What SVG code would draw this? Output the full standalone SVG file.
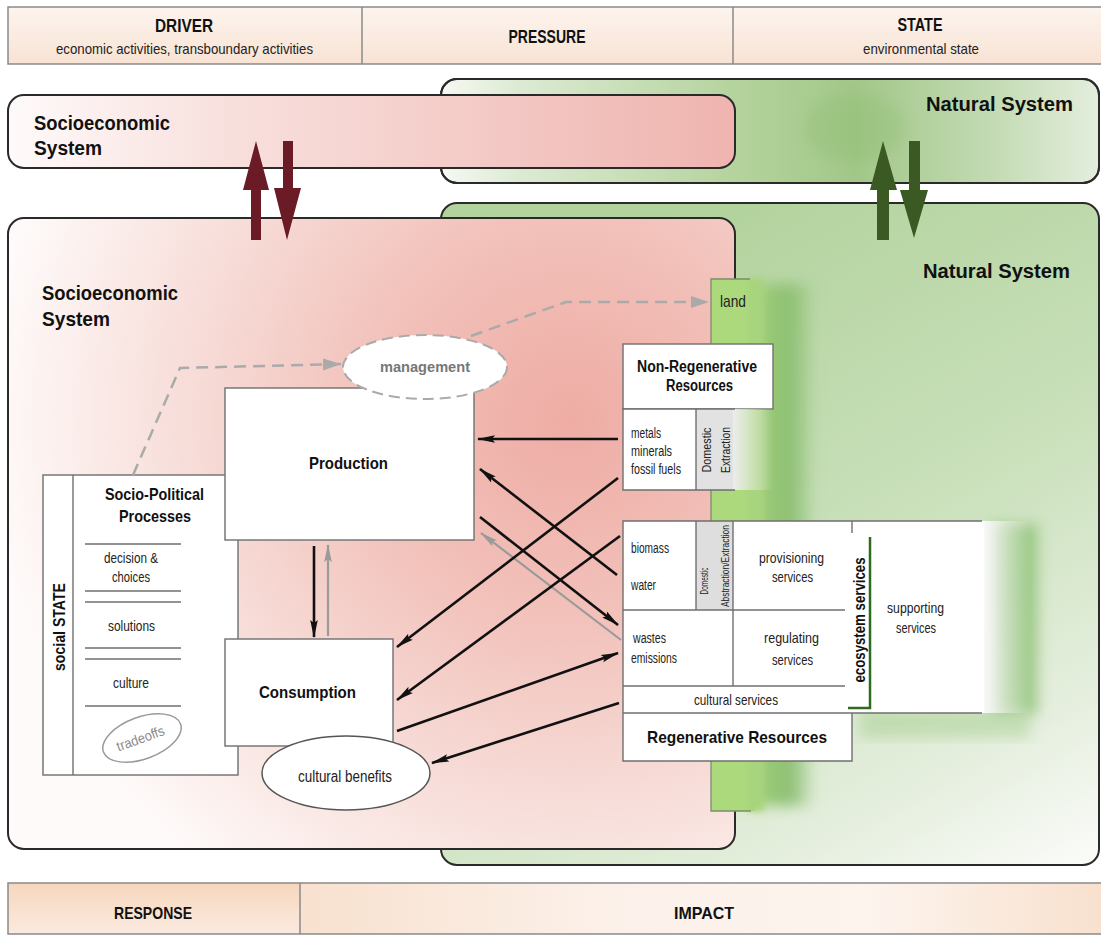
<svg xmlns="http://www.w3.org/2000/svg" width="1101" height="936" viewBox="0 0 1101 936">
<defs>
<style>
.b{font-family:'Liberation Sans Narrow','Liberation Sans',Arial,sans-serif;font-weight:bold;fill:#111}
.r{font-family:'Liberation Sans Narrow','Liberation Sans',Arial,sans-serif;fill:#222}
.box{fill:#fff;stroke:#777;stroke-width:1.5}
.ln{stroke:#6f6f6f;stroke-width:1.4;fill:none}
.frame{stroke:#2a2a2a;stroke-width:2}
.bar{stroke:#8a8a8a;stroke-width:1.5}
.arr{stroke:#111;stroke-width:2.6;fill:none;marker-end:url(#ah)}
.garr{stroke:#9a9a9a;stroke-width:2.2;fill:none;marker-end:url(#ahg)}
.dash{stroke:#aaaaaa;stroke-width:2.5;fill:none;stroke-dasharray:12 7;marker-end:url(#ahd)}
</style>
<marker id="ah" markerUnits="userSpaceOnUse" markerWidth="20" markerHeight="10" refX="17" refY="5" orient="auto"><path d="M0,1.2 L18,5 L0,8.8 L3,5 z" fill="#111"/></marker>
<marker id="ahg" markerUnits="userSpaceOnUse" markerWidth="20" markerHeight="10" refX="17" refY="5" orient="auto"><path d="M0,1.2 L18,5 L0,8.8 L3,5 z" fill="#9a9a9a"/></marker>
<marker id="ahd" markerUnits="userSpaceOnUse" markerWidth="20" markerHeight="14" refX="18" refY="7" orient="auto"><path d="M0,1 L18,7 L0,13 z" fill="#aaaaaa"/></marker>
<linearGradient id="topbar" x1="0" y1="0" x2="0" y2="1"><stop offset="0" stop-color="#fdf4ee"/><stop offset="1" stop-color="#f8e3d4"/></linearGradient>
<linearGradient id="upSocio" gradientUnits="userSpaceOnUse" x1="8" y1="0" x2="735" y2="0"><stop offset="0" stop-color="#fefafa"/><stop offset="0.3" stop-color="#f8e0dd"/><stop offset="1" stop-color="#efb4af"/></linearGradient>
<linearGradient id="upNat" gradientUnits="userSpaceOnUse" x1="441" y1="0" x2="1099" y2="0"><stop offset="0" stop-color="#f6f9f3"/><stop offset="0.12" stop-color="#dcead2"/><stop offset="0.45" stop-color="#b4d39d"/><stop offset="0.63" stop-color="#a2c788"/><stop offset="0.85" stop-color="#c5dcb6"/><stop offset="1" stop-color="#e4eedd"/></linearGradient>
<linearGradient id="lowNat" gradientUnits="userSpaceOnUse" x1="740" y1="210" x2="1100" y2="865"><stop offset="0" stop-color="#b3d39e"/><stop offset="0.45" stop-color="#c9e0ba"/><stop offset="0.8" stop-color="#e6efdf"/><stop offset="1" stop-color="#fbfcfa"/></linearGradient>
<radialGradient id="lowSocio" gradientUnits="userSpaceOnUse" cx="570" cy="420" r="580"><stop offset="0" stop-color="#eeaca4"/><stop offset="0.35" stop-color="#f2c2bb"/><stop offset="0.7" stop-color="#f8e0dc"/><stop offset="1" stop-color="#fefaf9"/></radialGradient>
<linearGradient id="resp" x1="0" y1="0" x2="0" y2="1"><stop offset="0" stop-color="#f6d7bd"/><stop offset="1" stop-color="#fbeadf"/></linearGradient>
<linearGradient id="imp" x1="0" y1="0" x2="1" y2="0"><stop offset="0" stop-color="#f8e1cf"/><stop offset="0.4" stop-color="#fcf1ea"/><stop offset="0.7" stop-color="#fdf4ee"/><stop offset="1" stop-color="#f8e0cd"/></linearGradient>
<linearGradient id="landBlur" x1="0" y1="0" x2="1" y2="0"><stop offset="0" stop-color="#a9d67f"/><stop offset="0.65" stop-color="#8cbf72"/><stop offset="1" stop-color="#8cbf72" stop-opacity="0"/></linearGradient>
<linearGradient id="fadeW" x1="0" y1="0" x2="1" y2="0"><stop offset="0" stop-color="#f8f8f8"/><stop offset="1" stop-color="#eeeeee" stop-opacity="0"/></linearGradient>
<linearGradient id="fadeG" x1="0" y1="0" x2="1" y2="0"><stop offset="0" stop-color="#ececec"/><stop offset="1" stop-color="#f0f0f0" stop-opacity="0"/></linearGradient>
<filter id="blur" x="-50%" y="-20%" width="200%" height="140%"><feGaussianBlur stdDeviation="7"/></filter>
<filter id="blur2" x="-20%" y="-20%" width="140%" height="140%"><feGaussianBlur stdDeviation="3"/></filter>
<clipPath id="cUpNat"><rect x="441" y="79" width="658" height="104" rx="16"/></clipPath>
</defs>

<rect width="1101" height="936" fill="#ffffff"/>

<g id="dpsir-top">
<rect x="8" y="7" width="1100" height="57" fill="url(#topbar)" class="bar"/>
<line x1="362" y1="7" x2="362" y2="64" class="bar"/>
<line x1="733" y1="7" x2="733" y2="64" class="bar"/>
<text class="b" x="184" y="32" font-size="18" text-anchor="middle" textLength="58" lengthAdjust="spacingAndGlyphs">DRIVER</text>
<text class="r" x="184.5" y="54" font-size="15" text-anchor="middle" textLength="257" lengthAdjust="spacingAndGlyphs">economic activities, transboundary activities</text>
<text class="b" x="547" y="43" font-size="18" text-anchor="middle" textLength="77" lengthAdjust="spacingAndGlyphs">PRESSURE</text>
<text class="b" x="920" y="31" font-size="18" text-anchor="middle" textLength="45" lengthAdjust="spacingAndGlyphs">STATE</text>
<text class="r" x="921" y="54" font-size="15" text-anchor="middle" textLength="116" lengthAdjust="spacingAndGlyphs">environmental state</text>
</g>

<g id="natural-system-upper">
<rect x="441" y="79" width="658" height="104" rx="16" fill="url(#upNat)" class="frame"/>
<g clip-path="url(#cUpNat)"><ellipse cx="855" cy="128" rx="50" ry="34" fill="#8fbd72" opacity="0.35" filter="url(#blur)"/></g>
<rect x="441" y="79" width="658" height="104" rx="16" fill="none" class="frame"/>
<text class="b" x="926" y="111" font-size="20" textLength="147" lengthAdjust="spacingAndGlyphs">Natural System</text>
</g>

<g id="socioeconomic-system-upper">
<rect x="8" y="95" width="727" height="73" rx="16" fill="url(#upSocio)" class="frame"/>
<text class="b" x="34" y="130" font-size="20" textLength="136" lengthAdjust="spacingAndGlyphs">Socioeconomic</text>
<text class="b" x="34" y="155" font-size="20" textLength="68" lengthAdjust="spacingAndGlyphs">System</text>
</g>

<g id="natural-system-lower">
<rect x="441" y="203" width="658" height="662" rx="16" fill="url(#lowNat)" class="frame"/>
<text class="b" x="923" y="278" font-size="20" textLength="147" lengthAdjust="spacingAndGlyphs">Natural System</text>
</g>

<g id="socioeconomic-system-lower">
<rect x="8" y="218" width="727" height="631" rx="16" fill="url(#lowSocio)" class="frame"/>
<text class="b" x="42" y="300" font-size="21" textLength="136" lengthAdjust="spacingAndGlyphs">Socioeconomic</text>
<text class="b" x="42" y="326" font-size="21" textLength="68" lengthAdjust="spacingAndGlyphs">System</text>
</g>

<g id="land">
<rect x="742" y="284" width="74" height="522" fill="url(#landBlur)" filter="url(#blur)"/>
<rect x="711" y="279" width="44" height="532" fill="#abd97b"/>
<rect x="748" y="279" width="16" height="532" fill="#a7d47d" filter="url(#blur2)"/>
<polyline points="750,279 711,279 711,811 751,811" fill="none" stroke="#7d8c6e" stroke-width="1.3"/>
<text class="r" x="720" y="307" font-size="17" textLength="26" lengthAdjust="spacingAndGlyphs">land</text>
</g>

<g id="non-regenerative-resources">
<rect x="623" y="344" width="150" height="65" class="box"/>
<text class="b" x="697" y="372" font-size="16" text-anchor="middle" textLength="120" lengthAdjust="spacingAndGlyphs">Non-Regenerative</text>
<text class="b" x="699.5" y="391" font-size="16" text-anchor="middle" textLength="67" lengthAdjust="spacingAndGlyphs">Resources</text>
<rect x="733" y="409" width="40" height="81" fill="url(#fadeG)"/>
<rect x="623" y="409" width="73" height="81" fill="#fff"/>
<rect x="696" y="409" width="37" height="81" fill="#e2e2e2"/>
<polyline points="735,409 623,409 623,490 735,490" class="ln"/>
<line x1="696" y1="409" x2="696" y2="490" class="ln"/>
<text class="r" x="631" y="438" font-size="14" textLength="30" lengthAdjust="spacingAndGlyphs">metals</text>
<text class="r" x="631" y="456" font-size="14" textLength="41" lengthAdjust="spacingAndGlyphs">minerals</text>
<text class="r" x="631" y="474" font-size="14" textLength="50" lengthAdjust="spacingAndGlyphs">fossil fuels</text>
<text class="r" transform="translate(711,450) rotate(-90)" font-size="13" text-anchor="middle" textLength="45" lengthAdjust="spacingAndGlyphs">Domestic</text>
<text class="r" transform="translate(730,450) rotate(-90)" font-size="13" text-anchor="middle" textLength="46" lengthAdjust="spacingAndGlyphs">Extraction</text>
</g>

<g id="regenerative-resources">
<rect x="990" y="524" width="48" height="190" fill="#8cc173" opacity="0.75" filter="url(#blur)"/>
<rect x="860" y="708" width="170" height="30" fill="#a6ce90" opacity="0.5" filter="url(#blur)"/>
<rect x="852" y="521" width="133" height="192" fill="#fff"/>
<rect x="984" y="521" width="46" height="192" fill="url(#fadeW)"/>
<rect x="623" y="521" width="229" height="240" fill="#fff"/>
<rect x="696" y="521" width="37" height="89" fill="#dedede"/>
<g class="ln">
<polyline points="982,521 623,521 623,761 852,761 852,713"/>
<line x1="623" y1="713" x2="982" y2="713"/>
<line x1="623" y1="686" x2="845" y2="686"/>
<line x1="623" y1="610" x2="845" y2="610"/>
<line x1="696" y1="521" x2="696" y2="610"/>
<line x1="733" y1="521" x2="733" y2="686"/>
<line x1="852" y1="521" x2="852" y2="533"/>
</g>
<polyline points="848,708 870,708 870,537" fill="none" stroke="#2e6b1f" stroke-width="2.5"/>
<text class="r" x="631" y="553" font-size="14" textLength="38" lengthAdjust="spacingAndGlyphs">biomass</text>
<text class="r" x="631" y="590" font-size="14" textLength="25" lengthAdjust="spacingAndGlyphs">water</text>
<text class="r" transform="translate(708,581) rotate(-90)" font-size="10" text-anchor="middle" textLength="27" lengthAdjust="spacingAndGlyphs">Domestic</text>
<text class="r" transform="translate(729,566) rotate(-90)" font-size="10" text-anchor="middle" textLength="82" lengthAdjust="spacingAndGlyphs">Abstraction/Extraction</text>
<text class="r" x="791.5" y="563" font-size="15" text-anchor="middle" textLength="65" lengthAdjust="spacingAndGlyphs">provisioning</text>
<text class="r" x="792.5" y="582" font-size="15" text-anchor="middle" textLength="41" lengthAdjust="spacingAndGlyphs">services</text>
<text class="r" x="633" y="643" font-size="14" textLength="33" lengthAdjust="spacingAndGlyphs">wastes</text>
<text class="r" x="631" y="663" font-size="14" textLength="46" lengthAdjust="spacingAndGlyphs">emissions</text>
<text class="r" x="791.5" y="643" font-size="15" text-anchor="middle" textLength="55" lengthAdjust="spacingAndGlyphs">regulating</text>
<text class="r" x="792.5" y="665" font-size="15" text-anchor="middle" textLength="41" lengthAdjust="spacingAndGlyphs">services</text>
<text class="r" x="736" y="705" font-size="15" text-anchor="middle" textLength="84" lengthAdjust="spacingAndGlyphs">cultural services</text>
<text class="b" x="737" y="743" font-size="17" text-anchor="middle" textLength="180" lengthAdjust="spacingAndGlyphs">Regenerative Resources</text>
<text class="r" x="915.5" y="613" font-size="15" text-anchor="middle" textLength="57" lengthAdjust="spacingAndGlyphs">supporting</text>
<text class="r" x="916" y="633" font-size="15" text-anchor="middle" textLength="40" lengthAdjust="spacingAndGlyphs">services</text>
<text class="b" transform="translate(865,620) rotate(-90)" font-size="16" text-anchor="middle" textLength="125" lengthAdjust="spacingAndGlyphs">ecosystem services</text>
</g>

<g id="socio-political-processes">
<rect x="43" y="475" width="195" height="300" class="box"/>
<line x1="73" y1="475" x2="73" y2="775" class="ln"/>
<text class="b" transform="translate(65,627) rotate(-90)" font-size="17" text-anchor="middle" textLength="88" lengthAdjust="spacingAndGlyphs">social STATE</text>
<text class="b" x="154.5" y="500" font-size="17" text-anchor="middle" textLength="99" lengthAdjust="spacingAndGlyphs">Socio-Political</text>
<text class="b" x="155" y="522" font-size="17" text-anchor="middle" textLength="72" lengthAdjust="spacingAndGlyphs">Processes</text>
<g class="ln">
<line x1="85" y1="544" x2="181" y2="544"/>
<line x1="85" y1="591" x2="181" y2="591"/>
<line x1="85" y1="602" x2="181" y2="602"/>
<line x1="85" y1="648" x2="181" y2="648"/>
<line x1="85" y1="659" x2="181" y2="659"/>
<line x1="85" y1="706" x2="181" y2="706"/>
</g>
<text class="r" x="131" y="563" font-size="15" text-anchor="middle" textLength="54" lengthAdjust="spacingAndGlyphs">decision &amp;</text>
<text class="r" x="131" y="582" font-size="15" text-anchor="middle" textLength="38" lengthAdjust="spacingAndGlyphs">choices</text>
<text class="r" x="131.5" y="631" font-size="15" text-anchor="middle" textLength="47" lengthAdjust="spacingAndGlyphs">solutions</text>
<text class="r" x="131" y="688" font-size="15" text-anchor="middle" textLength="36" lengthAdjust="spacingAndGlyphs">culture</text>
<ellipse cx="142" cy="738" rx="41" ry="21" transform="rotate(-20 142 738)" fill="#fff" stroke="#9a9a9a" stroke-width="1.5"/>
<text class="r" transform="translate(142,743) rotate(-20)" font-size="14" text-anchor="middle" style="fill:#8a8a8a" textLength="50" lengthAdjust="spacingAndGlyphs">tradeoffs</text>
</g>

<g id="production">
<rect x="225" y="388" width="249" height="152" class="box"/>
<text class="b" x="348.5" y="469" font-size="17" text-anchor="middle" textLength="79" lengthAdjust="spacingAndGlyphs">Production</text>
</g>

<g id="consumption">
<rect x="225" y="639" width="168" height="107" class="box"/>
<text class="b" x="307.5" y="698" font-size="17" text-anchor="middle" textLength="97" lengthAdjust="spacingAndGlyphs">Consumption</text>
</g>

<g id="cultural-benefits">
<ellipse cx="346" cy="773" rx="84" ry="37" fill="#fff" stroke="#555" stroke-width="1.5"/>
<text class="r" x="345" y="782" font-size="16" text-anchor="middle" textLength="94" lengthAdjust="spacingAndGlyphs">cultural benefits</text>
</g>

<g id="management">
<ellipse cx="425" cy="367" rx="82" ry="32" fill="#fff" stroke="#aaaaaa" stroke-width="2" stroke-dasharray="11 6"/>
<text class="b" x="425" y="372" font-size="15" text-anchor="middle" style="fill:#777" textLength="90" lengthAdjust="spacingAndGlyphs">management</text>
</g>

<g id="connectors">
<path class="dash" d="M133,475 L180,368 L341,364"/>
<path class="dash" d="M471,336 L566,302 L709,302"/>
<line class="arr" x1="314" y1="546" x2="314" y2="637"/>
<line class="garr" x1="328" y1="636" x2="328" y2="545"/>
<line class="arr" x1="618" y1="439" x2="478" y2="439"/>
<line class="arr" x1="617" y1="575" x2="480" y2="469"/>
<line class="arr" x1="480" y1="517" x2="618" y2="625"/>
<line class="garr" x1="621" y1="640" x2="481" y2="533"/>
<line class="arr" x1="618" y1="478" x2="397" y2="647"/>
<line class="arr" x1="620" y1="536" x2="397" y2="700"/>
<line class="arr" x1="397" y1="731" x2="618" y2="653"/>
<line class="arr" x1="619" y1="703" x2="432" y2="763"/>
<polygon points="251,240 261,240 261,190 269,190 256,141 243,190 251,190" fill="#6a1b26"/>
<polygon points="283,141 293,141 293,188 301,188 287,240 274,188 283,188" fill="#6a1b26"/>
<polygon points="877,240 889,240 889,190 897,190 883,141 870,190 877,190" fill="#3b5a23"/>
<polygon points="909,141 920,141 920,190 928,190 914,238 900,190 909,190" fill="#3b5a23"/>
</g>

<g id="dpsir-bottom">
<rect x="8" y="883" width="292" height="51" fill="url(#resp)"/>
<rect x="300" y="883" width="808" height="51" fill="url(#imp)"/>
<rect x="8" y="883" width="1100" height="51" fill="none" class="bar"/>
<line x1="300" y1="883" x2="300" y2="934" class="bar"/>
<text class="b" x="153" y="919" font-size="17" text-anchor="middle" textLength="78" lengthAdjust="spacingAndGlyphs">RESPONSE</text>
<text class="b" x="704" y="919" font-size="17" text-anchor="middle" textLength="60" lengthAdjust="spacingAndGlyphs">IMPACT</text>
</g>
</svg>
